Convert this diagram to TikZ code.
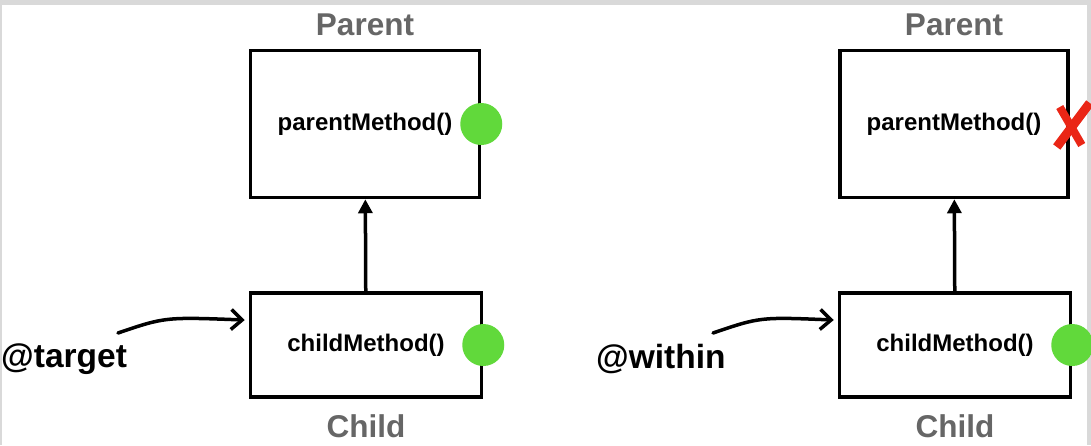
\documentclass[tikz,border=0pt]{standalone}
\usepackage{fontspec}
\setmainfont{Liberation Sans}
\usepackage{xcolor}
\usetikzlibrary{arrows.meta,positioning,calc}

\definecolor{okgreen}{RGB}{97,217,59}
\definecolor{nored}{RGB}{234,38,22}
\definecolor{lblgray}{RGB}{102,102,102}
\definecolor{framegray}{RGB}{217,217,217}

\begin{document}
\begin{tikzpicture}[
    x=1pt, y=-1pt,
    cls/.style={rectangle, draw, line width=3.5pt, font=\fontsize{24}{26}\selectfont\bfseries},
    dot/.style={circle, fill=okgreen, minimum size=42pt, inner sep=0pt},
    lbl/.style={font=\fontsize{31.5}{33}\selectfont\bfseries, text=lblgray, inner sep=0pt},
    pc/.style={font=\fontsize{33.5}{35}\selectfont\bfseries, inner sep=0pt, anchor=west},
    inherit/.style={-{Triangle[length=14pt,width=14pt]}, line width=3.5pt},
    sketch/.style={-{Straight Barb[length=11pt,width=20pt]}, line width=3.5pt, line cap=round}
]

% frame
\fill[framegray] (0,0) rectangle (1091,445);
\fill[white] (2,5) rectangle (1087,445);
\useasboundingbox (0,0) rectangle (1091,445);

% @target side
\node[cls, minimum width=229pt, minimum height=147pt] (parentA) at (365,124) {parentMethod()};
\node[cls, minimum width=231pt, minimum height=104pt] (childA) at (366,345) {childMethod()};
\node[lbl, above=12.5pt of parentA] (parentAlbl) {Parent};
\node[lbl, below=16pt of childA] (childAlbl) {Child};
\node[dot] (dotPA) at (parentA.east) {};
\node[dot] (dotCA) at (childA.east) {};
\draw[inherit] (childA) -- (parentA);
\node[pc] (target) at (1,359) {@target};
\coordinate (targetFrom) at (118,333);
\draw[sketch] (targetFrom) .. controls (165,317) .. ($(childA.west)+(-4,-25)$);

% @within side
\node[cls, minimum width=228pt, minimum height=147pt] (parentB) at (954,124) {parentMethod()};
\node[cls, minimum width=231pt, minimum height=104pt] (childB) at (955,345) {childMethod()};
\node[lbl, above=12.5pt of parentB] (parentBlbl) {Parent};
\node[lbl, below=16pt of childB] (childBlbl) {Child};
\node[dot] (dotCB) at (childB.east) {};
\draw[inherit] (childB) -- (parentB);
\node[pc] (within) at (596,359) {@within};
\coordinate (withinFrom) at (713,333);
\draw[sketch] (withinFrom) .. controls (760,317) .. ($(childB.west)+(-4,-25)$);

% red cross
\draw[nored, line width=9pt] ($(parentB.east)+(-13,23)$) -- ($(parentB.east)+(20,-21)$);
\draw[nored, line width=8pt] ($(parentB.east)+(-10,-17)$) -- ($(parentB.east)+(12,21)$);

\end{tikzpicture}
\end{document}
